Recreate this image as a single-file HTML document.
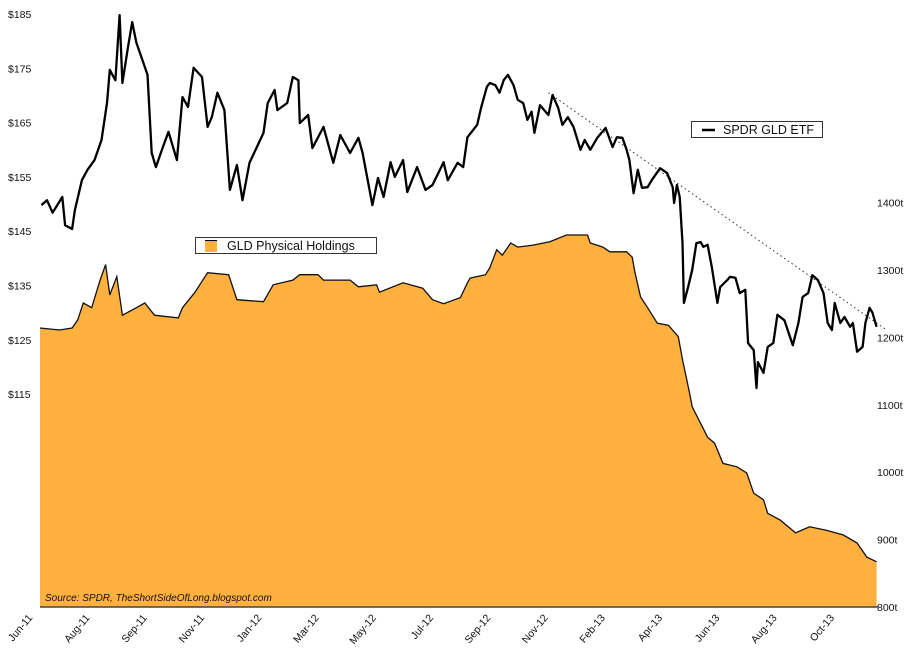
<!DOCTYPE html>
<html><head><meta charset="utf-8"><style>
html,body{margin:0;padding:0;background:#fff;}
svg{display:block;font-family:"Liberation Sans",sans-serif;}
</style></head><body>
<svg id="chart" width="923" height="655" viewBox="0 0 923 655" xmlns="http://www.w3.org/2000/svg"></svg>
<script>
const priceDays=[1,5,9,16,18,23,25,30,34,39,44,48,50,54,57,59,63,66,69,74,77,80,83,88,92,98,102,106,110,116,120,123,127,132,136,141,145,150,160,163,168,170,177,181,185,186,192,195,203,210,215,222,228,231,238,242,246,251,254,260,263,270,276,281,289,292,299,303,306,313,316,320,322,326,329,332,335,339,342,346,349,352,354,358,364,367,371,374,378,382,387,390,394,399,405,410,413,417,420,422,425,428,431,435,438,444,449,453,454,456,458,460,461,464,467,470,473,475,478,481,485,487,492,494,498,501,505,507,511,513,514,518,521,525,528,533,539,543,546,550,553,557,561,564,567,569,573,576,580,582,585,589,591,594,596,599];
const priceVals=[149.8,150.7,148.4,151.3,146.1,145.4,148.9,154.4,156.3,158.1,161.8,168.6,174.7,172.8,184.8,172.3,178.9,183.5,179.7,176.0,173.8,159.4,156.8,160.5,163.3,158.1,169.7,167.9,175.1,173.4,164.2,166.0,170.5,167.3,152.6,157.2,150.7,157.6,163.1,168.6,171.0,167.3,168.6,173.4,172.8,164.9,166.4,160.3,164.2,157.6,162.7,159.4,162.2,159.4,149.8,154.8,151.3,157.7,155.0,158.1,152.2,156.8,152.6,153.5,157.7,154.4,157.6,156.8,162.3,164.6,167.9,171.6,172.3,171.9,170.5,172.8,173.8,171.9,169.2,168.6,165.5,167.0,163.1,168.2,166.4,170.1,167.7,164.6,166.0,164.2,160.0,161.8,160.0,162.2,164.0,160.5,162.3,162.2,160.0,158.1,152.0,156.3,153.0,153.1,154.4,156.6,155.7,153.1,150.2,153.5,151.3,142.8,131.8,134.7,137.9,142.8,143.0,142.1,142.5,138.4,131.8,134.7,136.0,136.6,136.4,133.6,134.2,124.4,123.1,116.1,120.9,118.9,123.7,124.4,129.6,128.6,124.0,128.1,132.9,133.6,136.9,136.0,133.6,128.1,126.8,131.8,128.1,129.2,127.4,128.1,122.8,123.7,128.1,130.9,130.0,127.4];
const holdDays=[0,14,23,27,31,37,43,47,50,55,59,69,75,82,99,102,111,120,135,141,160,167,181,186,199,203,222,228,241,243,260,274,281,289,301,306,308,319,322,327,331,337,342,353,365,377,392,394,403,408,420,424,426,430,435,442,450,457,460,465,467,478,483,489,499,506,511,518,521,530,541,551,563,575,585,592,599];
const holdVals=[1214,1211,1214,1226,1251,1244,1285,1308,1263,1290,1233,1244,1251,1233,1229,1244,1267,1296,1293,1256,1253,1278,1285,1293,1293,1285,1285,1275,1278,1267,1281,1273,1256,1250,1259,1281,1288,1293,1303,1330,1322,1340,1334,1337,1342,1352,1352,1340,1334,1327,1327,1319,1296,1260,1244,1221,1218,1201,1167,1118,1097,1052,1043,1013,1008,999,969,959,939,929,910,919,914,907,895,874,867];
const xTickLabels=["Jun-11","Aug-11","Sep-11","Nov-11","Jan-12","Mar-12","May-12","Jul-12","Sep-12","Nov-12","Feb-13","Apr-13","Jun-13","Aug-13","Oct-13"];
const xTickDays=[-5,36,77,118,159,200,241,282,323,364,405,446,487,528,569];
const leftTicks=[185,175,165,155,145,135,125,115];
const rightTicks=[1400,1300,1200,1100,1000,900,800];
const trendStart=[364,170.5];
const trendEnd=[605,127.0];

const svg=document.getElementById('chart');
const NS='http://www.w3.org/2000/svg';
const X=d=>40+(d-0)*(838/600);
const YL=v=>14+(185-v)*5.43;
const YR=t=>607-(t-800)*0.674;
function mk(tag,attrs,parent){const e=document.createElementNS(NS,tag);for(const k in attrs)e.setAttribute(k,attrs[k]);(parent||svg).appendChild(e);return e;}

let d='M'+X(holdDays[0])+','+607;
holdDays.forEach((h,i)=>{d+=' L'+X(h).toFixed(1)+','+YR(holdVals[i]).toFixed(1);});
d+=' L'+X(holdDays[holdDays.length-1]).toFixed(1)+',607 Z';
const area=mk('path',{d:d,fill:'#FFB13F',stroke:'none'});


let d2='M'+X(holdDays[0])+','+YR(holdVals[0]).toFixed(1);
holdDays.forEach((h,i)=>{if(i)d2+=' L'+X(h).toFixed(1)+','+YR(holdVals[i]).toFixed(1);});
const hl=mk('path',{d:d2,fill:'none',stroke:'#111','stroke-width':1.3});



const ax=mk('line',{x1:40,y1:607,x2:878,y2:607,stroke:'#444','stroke-width':1.5});



const tr=mk('line',{x1:X(trendStart[0]),y1:YL(trendStart[1]),x2:X(trendEnd[0]),y2:YL(trendEnd[1]),stroke:'#333','stroke-width':1,'stroke-dasharray':'1.5,3'});



let d3='';
priceDays.forEach((p,i)=>{d3+=(i?' L':'M')+X(p).toFixed(1)+','+YL(priceVals[i]).toFixed(1);});
const pl=mk('path',{d:d3,fill:'none',stroke:'#000','stroke-width':2.3,'stroke-linejoin':'round'});



leftTicks.forEach(v=>{const t=mk('text',{x:8,y:YL(v)+4,'font-size':10.5,fill:'#111'});t.textContent='$'+v;

});
rightTicks.forEach(v=>{const t=mk('text',{x:877,y:YR(v)+4,'font-size':10.5,fill:'#111'});t.textContent=v+'t';

});
xTickLabels.forEach((l,i)=>{const x=X(xTickDays[i]);const t=mk('text',{x:x,y:618,'font-size':10.5,fill:'#111','text-anchor':'end',transform:'rotate(-50 '+x+' 618)'});t.textContent=l;

});

const s=mk('text',{x:45,y:601,'font-size':10,'font-style':'italic',fill:'#111'});s.textContent='Source: SPDR, TheShortSideOfLong.blogspot.com';



const g1=mk('g',{});


mk('rect',{x:195.5,y:237.5,width:181,height:16,fill:'#fff',stroke:'#333'},g1);
mk('rect',{x:205,y:240,width:12,height:12,fill:'#FFB13F'},g1);
mk('line',{x1:205,y1:240.5,x2:217,y2:240.5,stroke:'#000','stroke-width':1},g1);
const lt1=mk('text',{x:227,y:250,'font-size':12.5,fill:'#111'},g1);lt1.textContent='GLD Physical Holdings';
const g2=mk('g',{});


mk('rect',{x:691.5,y:121.5,width:131,height:16,fill:'#fff',stroke:'#333'},g2);
mk('line',{x1:702,y1:130,x2:715,y2:130,stroke:'#000','stroke-width':2.5},g2);
const lt2=mk('text',{x:723,y:134,'font-size':12.5,fill:'#111'},g2);lt2.textContent='SPDR GLD ETF';
</script>
</body></html>
